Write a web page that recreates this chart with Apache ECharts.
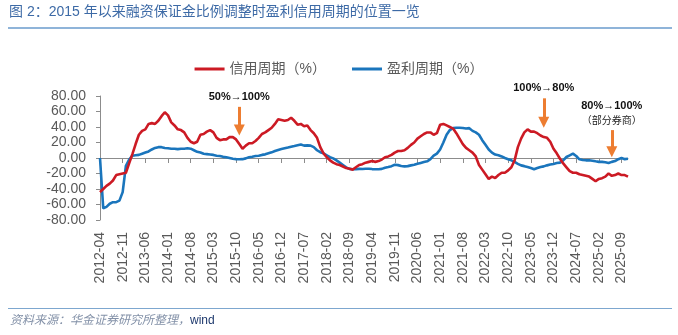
<!DOCTYPE html>
<html>
<head>
<meta charset="utf-8">
<script src="https://cdn.jsdelivr.net/npm/echarts@6/dist/echarts.min.js"></script>
<style>html,body{margin:0;padding:0;background:#fff}#c{width:678px;height:335px}</style>
</head>
<body>
<div id="c"></div>
<script>
// ---- data ----
const startYear = 2012, startMonth = 4, monthCount = 164; // 2012-04 .. 2025-11
const categories = [];
for (let i = 0; i < monthCount; i++) {
  const m = startMonth - 1 + i;
  const y = startYear + Math.floor(m / 12);
  const mm = (m % 12) + 1;
  categories.push(y + '-' + (mm < 10 ? '0' + mm : '' + mm));
}
const seriesNames = ['信用周期（%）', '盈利周期（%）'];
const creditCycle = [
  -44,-40,-36,-33,-29,-22,-21,-20,-19,-7, 5,18,30,35,37,44,45,44,48,54,
  59,55,46,42,37,36,33,26,21,19,21,30,31,34,36,33,26,23,24,24,
  27,27,24,18,12,16,19,19,22,26,31,33,36,39,44,50,49,48,49,52,
  48,43,44,41,42,36,32,26,14, 6, 1,-3,-6,-8,-9,-11,-13,-14,-15,-12,
  -9,-8,-6,-5,-4,-5,-4,-2, 1, 2, 4, 7, 9, 9,10,13,17,20,25,28,
  31,33,33,30,32,43,44,42,40,38,32,25,18,13,10, 7, 2,-9,-15,-21,
  -27,-24,-26,-22,-19,-19,-16,-12,-3,14,25,33,37,34,34,32,29,27,26,21,
  12, 6,-1,-7,-12,-17,-19,-19,-21,-22,-23,-24,-27,-30,-27,-26,-24,-20,-23,-22,
  -20,-22,-22,-24
];
const profitCycle = [
  0,-65,-63,-59,-57,-57,-55,-44,-10,-2, 3,3.5, 4,5.5, 7,8.5,11,13,14,14,
  13,12.5,12,12,11.5,12,12,12.5,12,10, 8, 7,5.5, 5,4.5, 4, 3,2.5,1.5, 1,
  0,-1,-1.5,-1.7,-1.5,-0.5, 1,1.7,2.5, 3, 4,4.7, 6,7.3, 9,10.3,11.5,12.5,13.5,14.6,
  15.5,16.5,17.5,16,16.3,16,14,10,7.5, 6,3.5, 1,-0.5,-3,-6,-9,-12,-14,-14.6,-14.6,
  -14,-14.2,-13.8,-13.8,-14.3,-14.6,-14.6,-14,-12.5,-11.6,-10.5,-8.8,-9.2,-10.3,-10.8,-10.5,-9.5,-8.8,-7.5,-6.3,
  -5.2,-4.3,-1.5, 3,5.6,11,20,30,36,38.5,39,39,38.7,38,38.5,35,33,30,23,17,
  11, 7,4.5,3.5, 2, 0,-1.5,-3,-5,-7.5,-9.5,-10.5,-11.6,-13,-14.6,-13,-11.6,-10.8,-9.5,-8.5,
  -7.7,-6.5,-6,-3,1.3,3.4,5.6,2.6,-1.7,-2.5,-3,-3,-3.5,-4.3,-5,-5,-5.5,-6.5,-5,-4,
  -1.5, 0,-1.5,-1
];
const yTicks = { min: -80, max: 80, step: 20 };
// adjustment annotations: [category, arrow start value, arrow end value, label]
const annotations = [
  ['2015-11', 66, 36, '{a|50%→100%}'],
  ['2023-09', 77, 46, '{a|100%→80%}'],
  ['2025-06', 36, 8, '{a|80%→100%}\n{b|（部分券商）}']
];

// ---- chart ----
const FONT = "'Liberation Sans', Arial, 'Noto Sans CJK SC', sans-serif";
const RED = '#CC1A24', BLUE = '#1A75BC', ORANGE = '#ED7D31', GRAY = '#595959';
const chart = echarts.init(document.getElementById('c'), null, { renderer: 'canvas' });

const arrowData = annotations.map(a => [
  { coord: [a[0], a[1]], symbol: 'none',
    label: { formatter: a[3] } },
  { coord: [a[0], a[2]], symbol: 'triangle', symbolSize: [11, 11] }
]);

chart.setOption({
  animation: false,
  textStyle: { fontFamily: FONT },
  graphic: [
    { type: 'text', left: 9, top: 5, style: { text: '图 2：2015 年以来融资保证金比例调整时盈利信用周期的位置一览', fill: '#3D6AA6', font: "14px " + FONT } },
    { type: 'rect', shape: { x: 8, y: 27, width: 664, height: 2 }, style: { fill: '#8FB4D9' } },
    { type: 'rect', shape: { x: 8, y: 308, width: 664, height: 1 }, style: { fill: '#7DA7CF' } },
    { type: 'text', left: 10, top: 315, style: { text: '资料来源：华金证券研究所整理，', fill: '#8391A8', font: "italic 12px " + FONT } },
    { type: 'text', left: 190, top: 315, style: { text: 'wind', fill: '#1F3A6E', font: "12px " + FONT } }
  ],
  legend: {
    top: 57, left: 'center', itemWidth: 30, itemHeight: 3, itemGap: 26, icon: 'rect',
    textStyle: { fontSize: 14, color: GRAY, fontFamily: FONT },
    data: seriesNames
  },
  grid: { left: 100, right: 50, top: 96, bottom: 115, containLabel: false },
  xAxis: [
    { type: 'category', data: categories, boundaryGap: false, position: 'bottom',
      axisLine: { show: false, onZero: false }, axisTick: { show: false }, splitLine: { show: false },
      axisLabel: { interval: 6, rotate: 90, fontSize: 14, color: GRAY, margin: 12, fontFamily: FONT } },
    { type: 'category', data: categories, boundaryGap: false, position: 'bottom',
      axisLine: { show: true, onZero: true, lineStyle: { color: '#8C8C8C', width: 1 } },
      axisTick: { show: true, interval: 6, length: 5, lineStyle: { color: '#8C8C8C' } },
      axisLabel: { show: false }, splitLine: { show: false } }
  ],
  yAxis: {
    type: 'value', min: yTicks.min, max: yTicks.max, interval: yTicks.step,
    axisLine: { show: true, lineStyle: { color: '#8C8C8C' } },
    axisTick: { show: true, length: 4, lineStyle: { color: '#8C8C8C' } },
    splitLine: { show: false },
    axisLabel: { fontSize: 14, color: GRAY, margin: 14, fontFamily: FONT, formatter: v => v.toFixed(2) }
  },
  series: [
    { name: seriesNames[0], type: 'line', data: creditCycle, showSymbol: false, symbol: 'none',
      lineStyle: { color: RED, width: 2.6 }, itemStyle: { color: RED }, z: 3,
      markLine: {
        silent: true, animation: false,
        lineStyle: { color: ORANGE, width: 3, type: 'solid' },
        itemStyle: { color: ORANGE },
        label: { show: true, position: 'start', distance: 3, color: '#000',
          rich: { a: { fontSize: 11, fontWeight: 'bold', color: '#111', fontFamily: FONT, lineHeight: 14 },
                  b: { fontSize: 10, color: '#222', fontFamily: "'Noto Sans CJK SC', sans-serif", lineHeight: 14 } } },
        emphasis: { disabled: true },
        data: arrowData
      } },
    { name: seriesNames[1], type: 'line', data: profitCycle, showSymbol: false, symbol: 'none',
      lineStyle: { color: BLUE, width: 2.6 }, itemStyle: { color: BLUE }, z: 2 }
  ]
});
</script>
</body>
</html>
